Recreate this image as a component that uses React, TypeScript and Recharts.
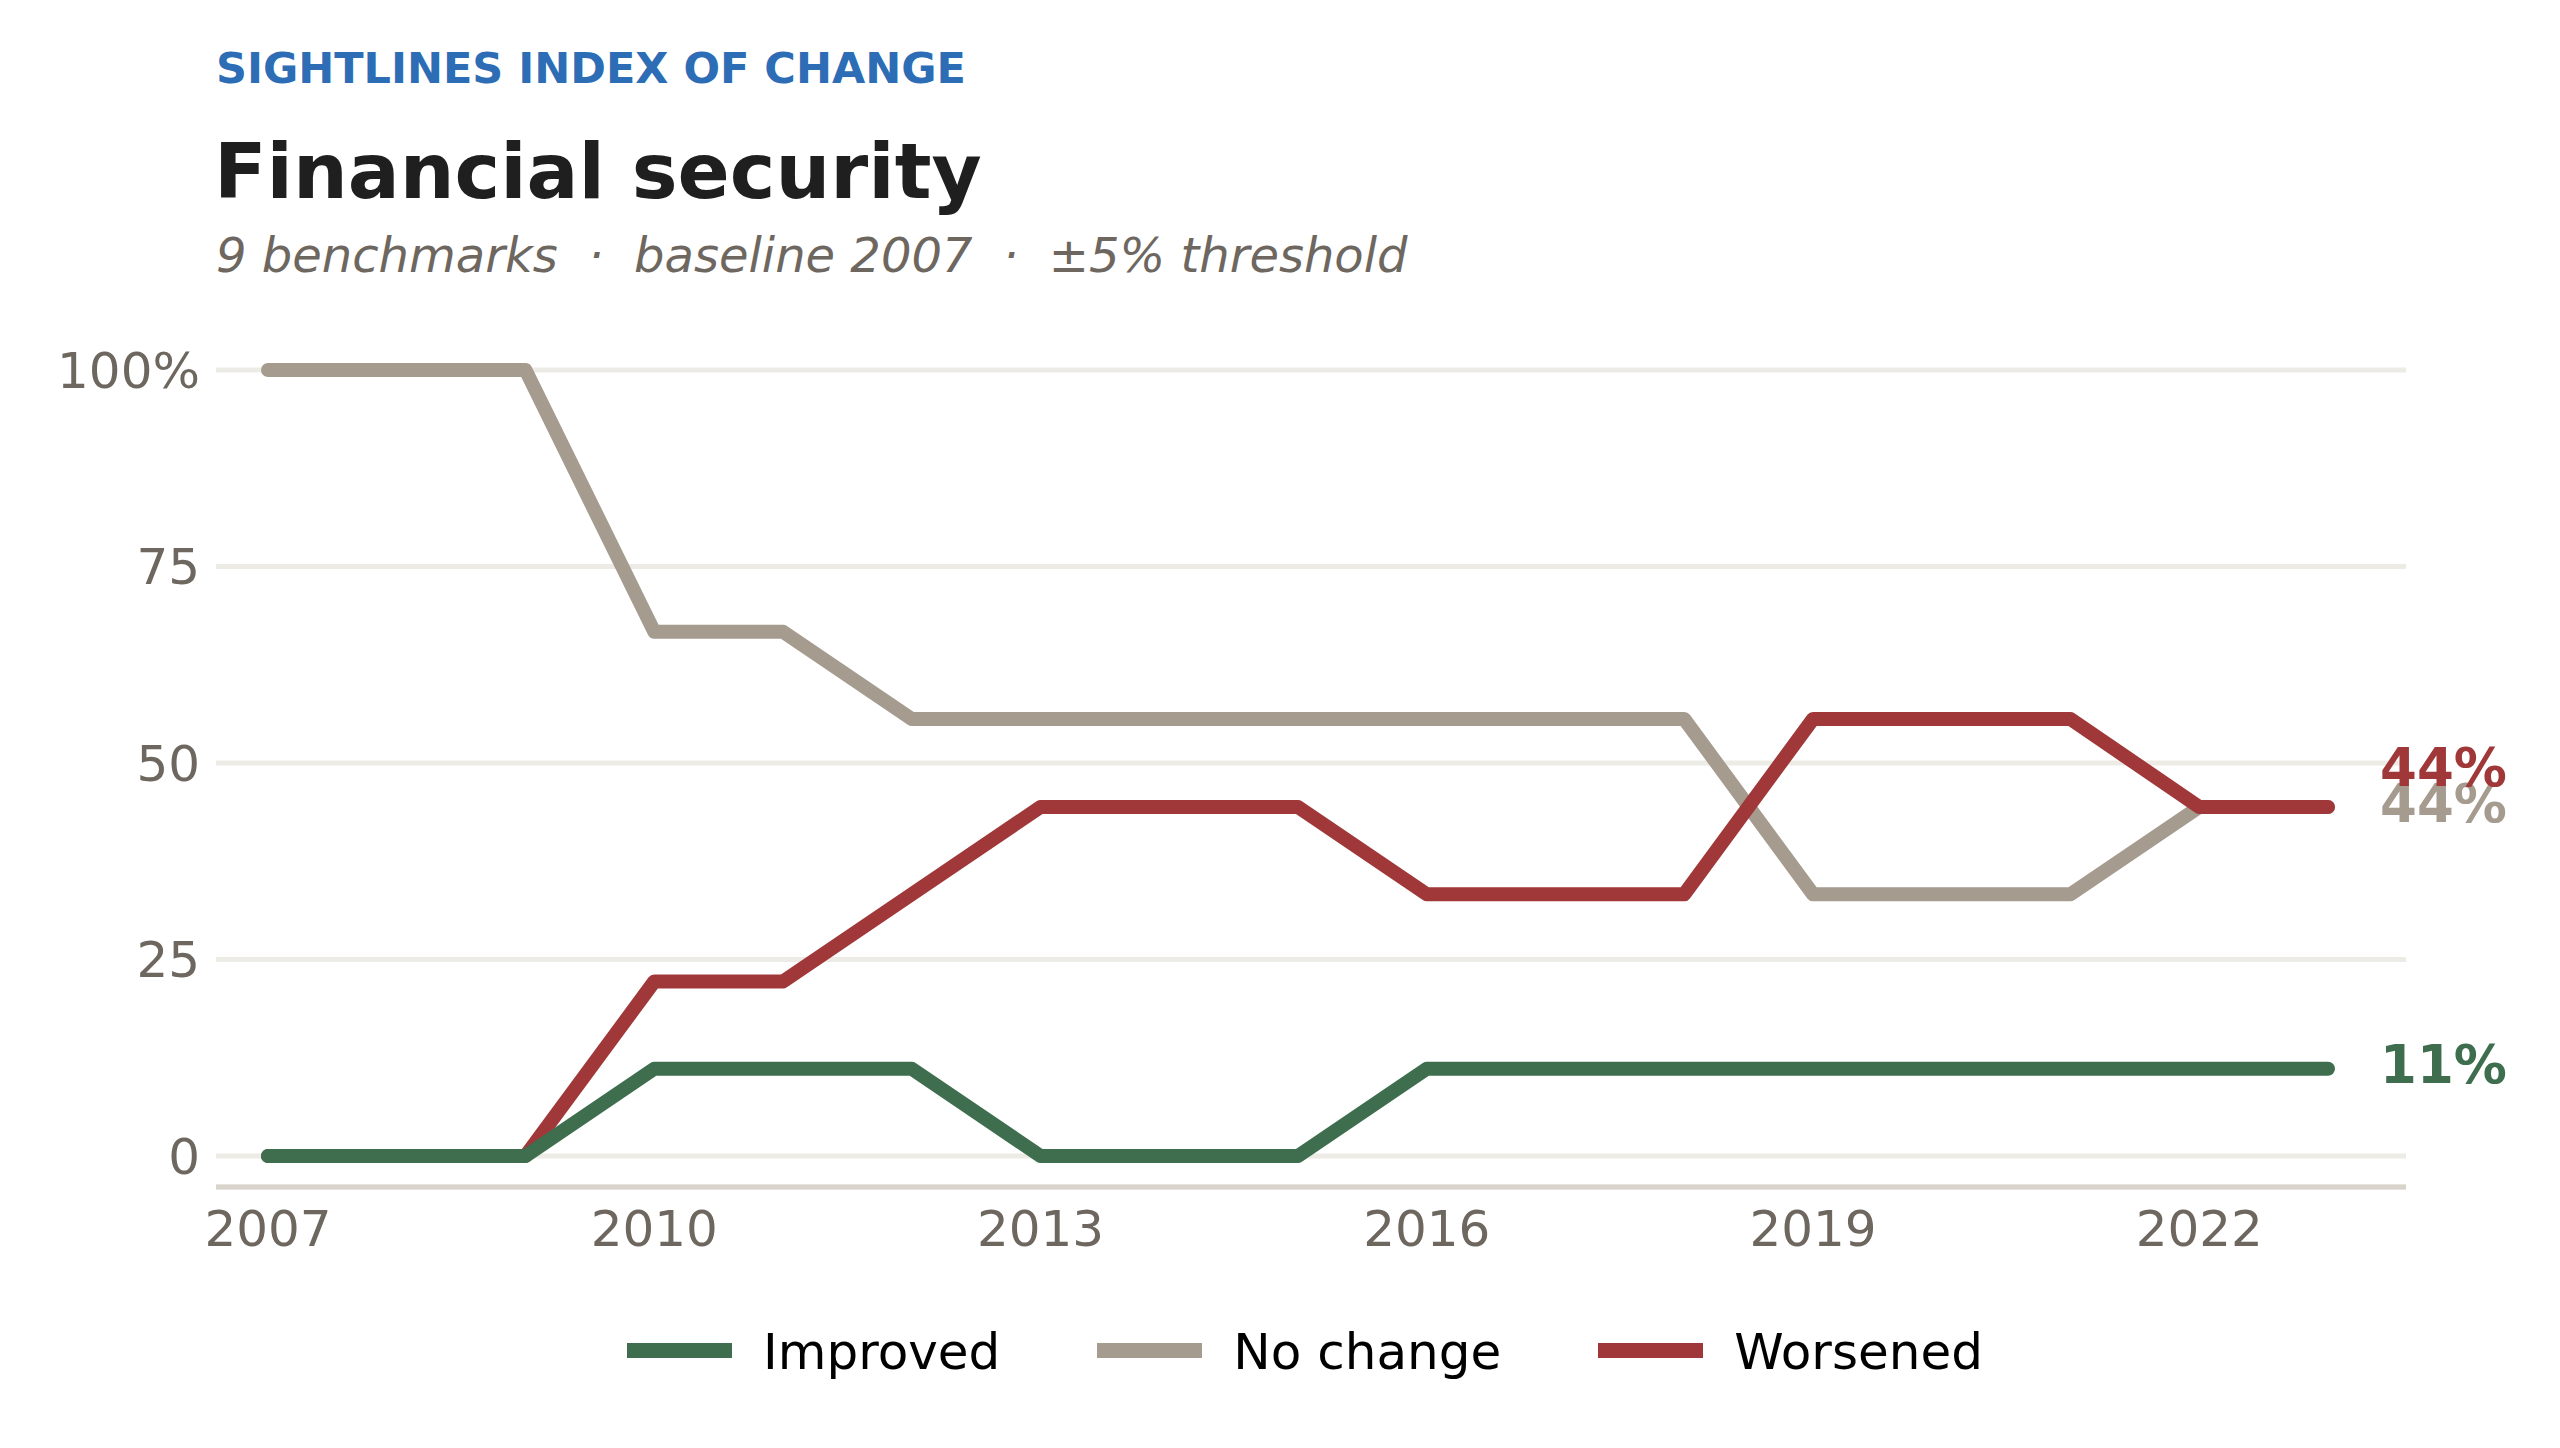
import { LineChart, Line, XAxis, YAxis, CartesianGrid, LabelList } from 'recharts';

const years = [2007, 2008, 2009, 2010, 2011, 2012, 2013, 2014, 2015, 2016, 2017, 2018, 2019, 2020, 2021, 2022, 2023];
const improved = [0, 0, 0, 11.1, 11.1, 11.1, 0, 0, 0, 11.1, 11.1, 11.1, 11.1, 11.1, 11.1, 11.1, 11.1];
const noChange = [100, 100, 100, 66.7, 66.7, 55.6, 55.6, 55.6, 55.6, 55.6, 55.6, 55.6, 33.3, 33.3, 33.3, 44.4, 44.4];
const worsened = [0, 0, 0, 22.2, 22.2, 33.3, 44.4, 44.4, 44.4, 33.3, 33.3, 33.3, 55.6, 55.6, 55.6, 44.4, 44.4];

const xTicks = [2007, 2010, 2013, 2016, 2019, 2022];
const yTicks = [0, 25, 50, 75, 100];

const GREEN = '#3F6E4F';
const GREY = '#A59B8E';
const RED = '#A03839';
const MUTED = '#6E675F';
const FONT = '"DejaVu Sans", "Noto Sans", sans-serif';

// legend order differs from draw order (grey under red under green)
const series = [
  { key: 'improved', name: 'Improved', color: GREEN },
  { key: 'noChange', name: 'No change', color: GREY },
  { key: 'worsened', name: 'Worsened', color: RED },
];

const data = years.map((year, i) => ({
  year,
  improved: improved[i],
  noChange: noChange[i],
  worsened: worsened[i],
}));

const lastIndex = years.length - 1;

// end-of-line value label, only on the last point
const endLabel = (color: string, dy: number) => (props: any) => {
  const { x, y, value, index } = props;
  if (index !== lastIndex) return null;
  return (
    <text
      x={x + 52}
      y={y + dy}
      fill={color}
      fontSize={53}
      fontWeight="bold"
      fontFamily={FONT}
      dominantBaseline="central"
    >
      {`${Math.round(value)}%`}
    </text>
  );
};

export default function App() {
  return (
    <div
      style={{
        position: 'absolute',
        left: 0,
        top: 0,
        width: 2560,
        height: 1448,
        background: '#ffffff',
        fontFamily: FONT,
        overflow: 'hidden',
      }}
    >
      <div style={{ position: 'absolute', left: 216, top: 47, fontSize: 43, lineHeight: 1, fontWeight: 'bold', color: '#2C6DB5' }}>
        SIGHTLINES INDEX OF CHANGE
      </div>
      <div style={{ position: 'absolute', left: 214, top: 133, fontSize: 77, lineHeight: 1, fontWeight: 'bold', color: '#1F1F1F' }}>
        Financial security
      </div>
      <div style={{ position: 'absolute', left: 216, top: 231, fontSize: 48, lineHeight: 1, fontStyle: 'italic', color: MUTED, whiteSpace: 'pre' }}>
        {'9 benchmarks  ·  baseline 2007  ·  ±5% threshold'}
      </div>

      <div style={{ position: 'absolute', left: 0, top: 0 }}>
        <LineChart width={2560} height={1448} data={data} margin={{ top: 370, right: 154, bottom: 181, left: 56 }}>
          <CartesianGrid vertical={false} stroke="#EDEBE6" strokeWidth={5} />
          <XAxis
            dataKey="year"
            type="number"
            domain={[2007, 2023]}
            ticks={xTicks}
            padding={{ left: 52, right: 78 }}
            height={80}
            axisLine={{ stroke: '#D8D3CB', strokeWidth: 5 }}
            tickLine={false}
            tickSize={6}
            tickMargin={17}
            tick={{ fill: MUTED, fontSize: 50, fontFamily: FONT }}
          />
          <YAxis
            type="number"
            domain={[0, 100]}
            ticks={yTicks}
            padding={{ top: 0, bottom: 31 }}
            width={160}
            axisLine={false}
            tickLine={false}
            tickSize={6}
            tickMargin={10}
            tick={{ fill: MUTED, fontSize: 50, fontFamily: FONT }}
            tickFormatter={(v: number) => (v === 100 ? '100%' : String(v))}
          />
          <Line
            type="linear"
            dataKey="noChange"
            name="No change"
            stroke={GREY}
            strokeWidth={14}
            strokeLinecap="round"
            strokeLinejoin="round"
            dot={false}
            activeDot={false}
            isAnimationActive={false}
          >
            <LabelList dataKey="noChange" content={endLabel(GREY, -4)} />
          </Line>
          <Line
            type="linear"
            dataKey="worsened"
            name="Worsened"
            stroke={RED}
            strokeWidth={14}
            strokeLinecap="round"
            strokeLinejoin="round"
            dot={false}
            activeDot={false}
            isAnimationActive={false}
          >
            <LabelList dataKey="worsened" content={endLabel(RED, -40)} />
          </Line>
          <Line
            type="linear"
            dataKey="improved"
            name="Improved"
            stroke={GREEN}
            strokeWidth={14}
            strokeLinecap="round"
            strokeLinejoin="round"
            dot={false}
            activeDot={false}
            isAnimationActive={false}
          >
            <LabelList dataKey="improved" content={endLabel(GREEN, -4)} />
          </Line>
        </LineChart>
      </div>

      <div style={{ position: 'absolute', left: 627, top: 1327, display: 'flex', alignItems: 'center', height: 50 }}>
        {series.map((s, i) => (
          <div key={s.key} style={{ display: 'flex', alignItems: 'center', marginRight: i < series.length - 1 ? 97 : 0 }}>
            <div style={{ width: 105, height: 15, background: s.color, marginRight: 31, marginTop: -3 }} />
            <span style={{ fontSize: 50, lineHeight: 1, color: '#000000' }}>{s.name}</span>
          </div>
        ))}
      </div>
    </div>
  );
}
